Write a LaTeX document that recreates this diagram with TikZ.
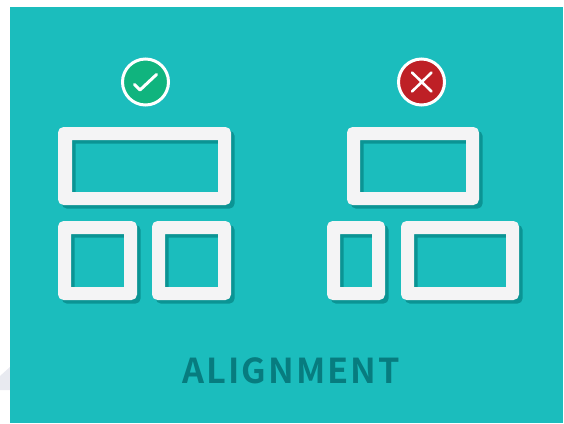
\documentclass[tikz,border=0pt]{standalone}
\usepackage{fontspec}
\newfontfamily\labelfont[LetterSpace=6]{Noto Sans CJK SC Bold}
\definecolor{teal1}{HTML}{1BBDBD}
\definecolor{shade1}{HTML}{0B9494}
\definecolor{paper}{HTML}{F4F4F5}
\definecolor{txt}{HTML}{077C7F}
\definecolor{okgreen}{HTML}{10B47E}
\definecolor{badred}{HTML}{BE2026}
\definecolor{corner}{HTML}{E8EAF0}
\newcommand{\panel}[8]{%
  \begin{scope}[even odd rule]
  \fill[shade1,xshift=3.7pt,yshift=-3.7pt] [rounded corners=5.5pt] (#1,#2) rectangle (#3,#4) [sharp corners] (#5,#6) rectangle (#7,#8);
  \fill[paper] [rounded corners=5.5pt] (#1,#2) rectangle (#3,#4) [sharp corners] (#5,#6) rectangle (#7,#8);
  \end{scope}
}
\begin{document}
\begin{tikzpicture}[x=1pt,y=-1pt]
\useasboundingbox (0,0) rectangle (564,423);
\fill[white] (0,0) rectangle (564,423);
\fill[corner] (0,376) -- (10,367) -- (10,390) -- (0,390) -- cycle;
\fill[teal1] (10,7) rectangle (563,423);
% correct layout
\panel{58}{127}{231}{205}{72}{140}{218}{192}
\panel{58}{221}{137}{300}{71}{234}{124}{287}
\panel{152}{221}{231}{300}{165}{234}{218}{287}
% wrong layout
\panel{347}{127}{479}{205}{360}{140}{466}{192}
\panel{327}{221}{385}{300}{340}{234}{372}{287}
\panel{401}{221}{519}{300}{414}{234}{506}{287}
% badges
\fill[okgreen,draw=white,line width=3pt] (145.5,82) circle (23);
\draw[white,line width=3pt,line cap=round,line join=round] (134.5,84.5) -- (140,90) -- (156.5,74.5);
\fill[badred,draw=white,line width=3pt] (421.5,82) circle (23);
\draw[white,line width=2.6pt,line cap=round] (412,72.5) -- (431.5,91.5) (431.5,72.5) -- (412,91.5);
\node[text=txt,inner sep=0pt,font=\labelfont\fontsize{34.3}{35}\selectfont] (title) at (291,371) {ALIGNMENT};
\end{tikzpicture}
\end{document}
